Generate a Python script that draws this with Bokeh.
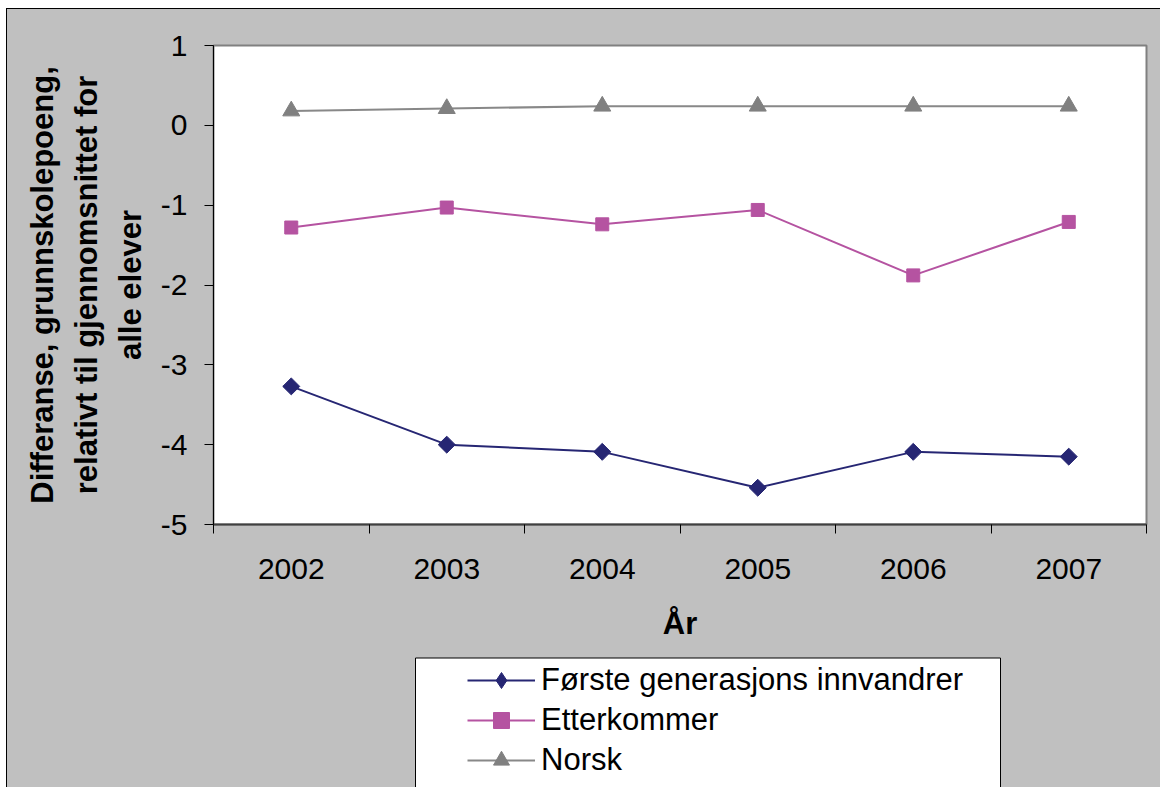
import numpy as np
from bokeh.plotting import figure
from bokeh.layouts import column
from bokeh.models import Range1d, FixedTicker, Legend, LegendItem
from bokeh.embed import file_html
from bokeh.resources import INLINE

years = ["2002", "2003", "2004", "2005", "2006", "2007"]
forste = [-3.27, -4.00, -4.09, -4.54, -4.09, -4.15]
etterkommer = [-1.28, -1.03, -1.24, -1.06, -1.88, -1.21]
norsk = [0.18, 0.21, 0.24, 0.24, 0.24, 0.24]
y_ticks = [-5, -4, -3, -2, -1, 0, 1]
series_names = ["Første generasjons innvandrer", "Etterkommer", "Norsk"]

FONT = "Liberation Sans"
GREY = "#c0c0c0"
W = 1153
H1, H2 = 640, 138
BL, BR = 206, 14

xs = [i + 0.5 for i in range(len(years))]

p = figure(width=W, height=H1, output_backend="svg", toolbar_location=None,
           x_range=Range1d(0, len(years)), y_range=Range1d(y_ticks[0], y_ticks[-1]),
           min_border_left=BL, min_border_right=BR, min_border_top=36, min_border_bottom=125)
p.border_fill_color = GREY
p.background_fill_color = "white"
p.outline_line_color = "#808080"
p.outline_line_width = 2
p.xgrid.visible = False
p.ygrid.visible = False

# x axis
p.xaxis.ticker = FixedTicker(ticks=xs, minor_ticks=list(range(len(years) + 1)))
p.xaxis.major_label_overrides = {x: y for x, y in zip(xs, years)}
p.xaxis.major_tick_out = 0
p.xaxis.major_tick_in = 0
p.xaxis.minor_tick_out = 9
p.xaxis.minor_tick_in = 0
p.xaxis.minor_tick_line_color = "black"
p.xaxis.axis_line_color = "#404040"
p.xaxis.axis_line_width = 2
p.xaxis.major_label_text_font = FONT
p.xaxis.major_label_text_font_size = "30px"
p.xaxis.major_label_text_color = "black"
p.xaxis.major_label_standoff = 25
p.xaxis.axis_label = "År"
p.xaxis.axis_label_text_font = FONT
p.xaxis.axis_label_text_font_size = "31px"
p.xaxis.axis_label_text_font_style = "bold"
p.xaxis.axis_label_text_color = "black"
p.xaxis.axis_label_standoff = 24

# y axis
p.yaxis.ticker = FixedTicker(ticks=y_ticks, minor_ticks=[])
p.yaxis.major_label_overrides = {v: str(v) for v in y_ticks}
p.yaxis.major_tick_out = 9
p.yaxis.major_tick_in = 0
p.yaxis.major_tick_line_color = "black"
p.yaxis.axis_line_color = "black"
p.yaxis.axis_line_width = 1
p.yaxis.major_label_text_font = FONT
p.yaxis.major_label_text_font_size = "30px"
p.yaxis.major_label_text_color = "black"
p.yaxis.major_label_standoff = 17
p.yaxis.axis_label = "Differanse, grunnskolepoeng,\nrelativt til gjennomsnittet for\nalle elever"
p.yaxis.axis_label_text_font = FONT
p.yaxis.axis_label_text_font_size = "31px"
p.yaxis.axis_label_text_font_style = "bold"
p.yaxis.axis_label_text_color = "black"
p.yaxis.axis_label_text_line_height = 1.25
p.yaxis.axis_label_standoff = 10

c1, c2, c3, c3m = "#262673", "#b553a1", "#888888", "#808080"

p.line(xs, forste, line_color=c1, line_width=2)
p.scatter(xs, forste, marker="square", angle=np.pi / 4, size=12, fill_color=c1, line_color=c1)
p.line(xs, etterkommer, line_color=c2, line_width=2)
p.scatter(xs, etterkommer, marker="square", size=13, fill_color=c2, line_color=c2)
p.line(xs, norsk, line_color=c3, line_width=2)
p.scatter(xs, norsk, marker="triangle", size=17, fill_color=c3m, line_color=c3m)

# legend strip below the chart (pixel-like ranges, y pointing down)
FW = W - BL - BR
q = figure(width=W, height=H2, output_backend="svg", toolbar_location=None,
           x_range=Range1d(0, FW), y_range=Range1d(H2, 0),
           x_axis_location=None, y_axis_location=None,
           min_border_left=BL, min_border_right=BR, min_border_top=0, min_border_bottom=0)
q.border_fill_color = GREY
q.background_fill_color = GREY
q.outline_line_color = None
q.xgrid.visible = False
q.ygrid.visible = False

# legend box
q.quad(left=[202], right=[787], top=[8.5], bottom=[H2 + 10],
       fill_color="white", line_color="black", line_width=1)

# legend sample renderers (placed off-screen, only used by the legend)
off = [-1000, -999]
ql1 = q.line(off, off, line_color=c1, line_width=2)
qm1 = q.scatter(off, off, marker="diamond", size=16, fill_color=c1, line_color=c1)
ql2 = q.line(off, off, line_color=c2, line_width=2)
qm2 = q.scatter(off, off, marker="square", size=13, fill_color=c2, line_color=c2)
ql3 = q.line(off, off, line_color=c3, line_width=2)
qm3 = q.scatter(off, off, marker="triangle", size=17, fill_color=c3m, line_color=c3m)

legend = Legend(items=[
    LegendItem(label=series_names[0], renderers=[ql1, qm1]),
    LegendItem(label=series_names[1], renderers=[ql2, qm2]),
    LegendItem(label=series_names[2], renderers=[ql3, qm3]),
], location=(251, 4), margin=0, padding=3, spacing=0,
    glyph_width=68, glyph_height=40, label_height=40, label_standoff=6,
    label_text_font=FONT, label_text_font_size="31px", label_text_color="black",
    background_fill_alpha=0, border_line_alpha=0)
q.add_layout(legend)

layout = column(p, q, spacing=0, margin=(8, 0, 0, 6),
                styles={"border-top": "1px solid black", "border-left": "1px solid black",
                        "background-color": GREY})

open("out.html", "w").write(file_html(layout, INLINE))
